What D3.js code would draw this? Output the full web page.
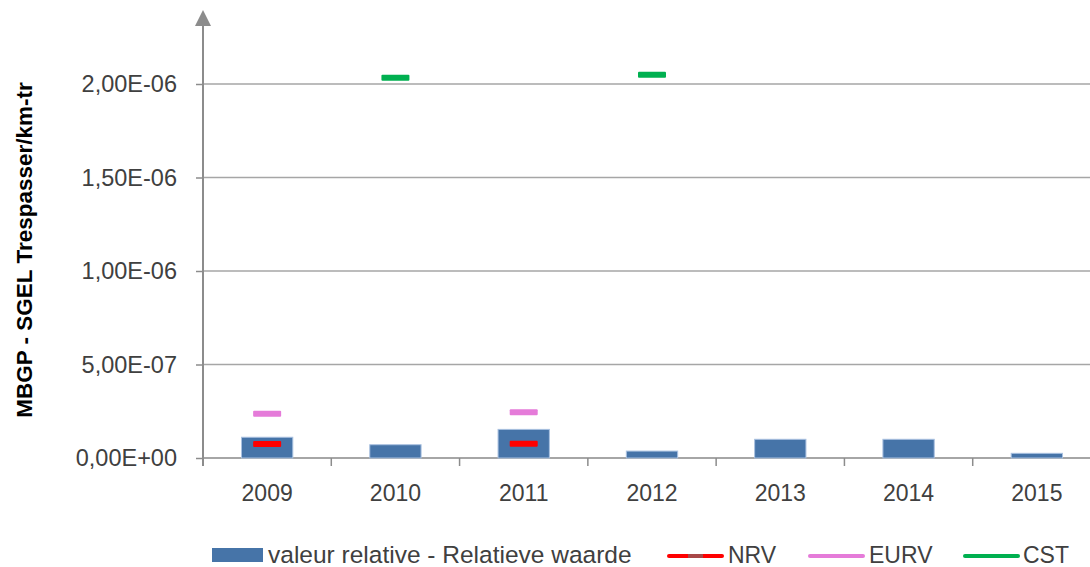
<!DOCTYPE html>
<html>
<head>
<meta charset="utf-8">
<script src="https://cdn.jsdelivr.net/npm/d3@7"></script>
<style>
  body { margin: 0; background: #fff; }
  svg { display: block; font-family: "Liberation Sans", Arial, sans-serif; }
</style>
</head>
<body>
<div id="chart"></div>
<script>
// chart data
const years = ["2009", "2010", "2011", "2012", "2013", "2014", "2015"];
const relValues = [1.11e-7, 7.1e-8, 1.53e-7, 3.7e-8, 1.0e-7, 1.0e-7, 2.5e-8];
const nrvValues = [7.5e-8, null, 7.6e-8, null, null, null, null];
const eurvValues = [2.37e-7, null, 2.44e-7, null, null, null, null];
const cstValues = [null, 2.034e-6, null, 2.05e-6, null, null, null];
const yTicks = [0, 5e-7, 1e-6, 1.5e-6, 2e-6];
const yLabel = "MBGP - SGEL Trespasser/km-tr";

const width = 1090, height = 567;
const plotLeft = 203, plotRight = 1101, plotBottom = 458, plotTop = 84;

const svg = d3.select("#chart")
    .append("svg")
    .attr("width", width)
    .attr("height", height);

const x = d3.scaleBand()
    .domain(years)
    .range([plotLeft, plotRight])
    .paddingInner(0.6)
    .paddingOuter(0.3);

const xCat = d3.scaleBand().domain(years).range([plotLeft, plotRight]);

const y = d3.scaleLinear()
    .domain([0, 2e-6])
    .range([plotBottom, plotTop]);

// excel-like scientific format: 2,00E-06
function sci(v) {
    if (v === 0) return "0,00E+00";
    const [m, e] = v.toExponential(2).split("e");
    const n = +e;
    return m.replace(".", ",") + "E" + (n < 0 ? "-" : "+") + String(Math.abs(n)).padStart(2, "0");
}

// gridlines
svg.append("g")
    .selectAll("line")
    .data(yTicks.filter(d => d > 0))
    .join("line")
    .attr("x1", plotLeft)
    .attr("x2", width)
    .attr("y1", d => y(d))
    .attr("y2", d => y(d))
    .attr("stroke", "#a6a6a6")
    .attr("stroke-width", 1.5);

// y axis
const yAxis = svg.append("g")
    .attr("transform", `translate(${plotLeft},0)`)
    .call(d3.axisLeft(y).tickValues(yTicks).tickFormat(sci).tickSize(7).tickPadding(19).tickSizeOuter(0));
yAxis.select(".domain").remove();
yAxis.selectAll(".tick line").attr("stroke", "#8c8c8c").attr("stroke-width", 1.5);
yAxis.selectAll("text")
    .attr("fill", "#404040")
    .style("font-size", "23.5px");

// x axis
const xAxis = svg.append("g")
    .attr("transform", `translate(0,${plotBottom})`)
    .call(d3.axisBottom(xCat).tickSize(0).tickPadding(27).tickSizeOuter(0));
xAxis.select(".domain")
    .attr("stroke", "#a6a6a6")
    .attr("stroke-width", 2)
    .attr("d", `M${plotLeft},0H${width}`);
xAxis.selectAll("text")
    .attr("fill", "#404040")
    .style("font-size", "23px");

// category boundary ticks
svg.append("g")
    .selectAll("line")
    .data(years.map(d => xCat(d)).concat([xCat(years[years.length - 1]) + xCat.bandwidth()]))
    .join("line")
    .attr("x1", d => d)
    .attr("x2", d => d)
    .attr("y1", plotBottom)
    .attr("y2", plotBottom + 8)
    .attr("stroke", "#8c8c8c")
    .attr("stroke-width", 1.5);

// bars
svg.append("g")
    .selectAll("rect")
    .data(years.map((d, i) => ({ year: d, value: relValues[i] })))
    .join("rect")
    .attr("x", d => x(d.year))
    .attr("width", x.bandwidth())
    .attr("y", d => y(d.value))
    .attr("height", d => y(0) - y(d.value))
    .attr("fill", "#4674a8")
    .attr("stroke", "#a9c1e0")
    .attr("stroke-width", 1);

// marker dashes
const markerW = 28, markerH = 6;
function drawMarkers(values, color) {
    svg.append("g")
        .selectAll("rect")
        .data(years.map((d, i) => ({ year: d, value: values[i] })).filter(d => d.value != null))
        .join("rect")
        .attr("x", d => xCat(d.year) + xCat.bandwidth() / 2 - markerW / 2)
        .attr("y", d => y(d.value) - markerH / 2)
        .attr("width", markerW)
        .attr("height", markerH)
        .attr("rx", 1)
        .attr("fill", color);
}
drawMarkers(nrvValues, "#ff0000");
drawMarkers(eurvValues, "#e57bd9");
drawMarkers(cstValues, "#00b050");

// vertical axis line with arrow
svg.append("line")
    .attr("x1", plotLeft).attr("x2", plotLeft)
    .attr("y1", 20).attr("y2", plotBottom + 8)
    .attr("stroke", "#8c8c8c")
    .attr("stroke-width", 2);
svg.append("path")
    .attr("d", `M${plotLeft},10L${plotLeft + 8},26L${plotLeft - 8},26Z`)
    .attr("fill", "#8c8c8c");

// y label
svg.append("text")
    .attr("transform", `translate(32,250) rotate(-90)`)
    .attr("text-anchor", "middle")
    .attr("font-weight", "bold")
    .style("font-size", "22.5px")
    .attr("fill", "#000")
    .text(yLabel);

// legend
const legend = svg.append("g");
legend.append("rect")
    .attr("x", 212).attr("y", 548).attr("width", 51).attr("height", 14)
    .attr("fill", "#4674a8");
legend.append("text").attr("x", 268).attr("y", 563).attr("fill", "#404040")
    .style("font-size", "24.5px")
    .text("valeur relative - Relatieve waarde");

const lineItems = [
    { name: "NRV", color: "#ff0000", x0: 669, tx: 728 },
    { name: "EURV", color: "#e57bd9", x0: 810, tx: 869 },
    { name: "CST", color: "#00b050", x0: 965, tx: 1023 }
];
lineItems.forEach(d => {
    legend.append("line")
        .attr("x1", d.x0).attr("x2", d.x0 + 53)
        .attr("y1", 556).attr("y2", 556)
        .attr("stroke", d.color)
        .attr("stroke-width", 4)
        .attr("stroke-linecap", "round");
    legend.append("text").attr("x", d.tx).attr("y", 563).attr("fill", "#404040")
        .style("font-size", "23px")
        .text(d.name);
});
legend.append("rect")
    .attr("x", 688).attr("y", 554).attr("width", 15).attr("height", 4)
    .attr("fill", "#a84848");
</script>
</body>
</html>
